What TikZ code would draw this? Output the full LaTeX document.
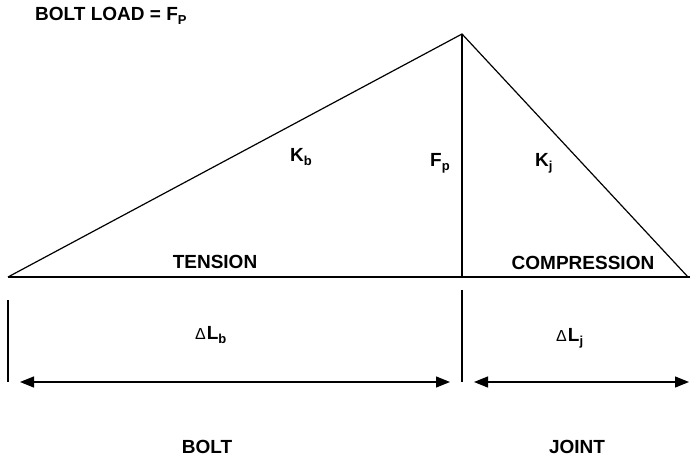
\documentclass[tikz,border=0pt]{standalone}
\usepackage{fontspec}
\setmainfont{Liberation Sans}
\usetikzlibrary{arrows.meta,positioning}

\newcommand{\lowidx}[1]{\raisebox{-4pt}{\fontsize{13}{13}\selectfont #1}}
\newcommand{\dlt}{{\fontsize{16}{16}\selectfont\mdseries Δ}\kern1pt}

\begin{document}
\begin{tikzpicture}[
  x=1pt, y=-1pt,
  lbl/.style={
    font=\bfseries\fontsize{19}{19}\selectfont,
    inner sep=0pt,
    anchor=base
  },
  lblw/.style={lbl, anchor=base west},
  line/.style={line width=1.2pt},
  dim/.style={
    {Triangle[length=14pt,width=11pt]}-{Triangle[length=14pt,width=11pt]},
    line width=1.2pt
  }
]
\useasboundingbox (0,0) rectangle (690,457);

% load triangle
\coordinate (base-l) at (8,277);
\coordinate (base-r) at (688,277);
\coordinate (base-end) at (690,277);
\coordinate (peak) at (462,34);
\coordinate (foot) at (462,277);

\draw[line] (base-l) -- (peak) -- (base-r);
\draw[line] (base-l) -- (base-end);
\draw[line] (peak) -- (foot);

% extension dimensions
\coordinate (tick-top) at (8,300);
\coordinate (tick-bot) at (8,382);
\coordinate (mid-top) at (462,290);
\coordinate (mid-bot) at (462,382);
\coordinate (bolt-l) at (20,382);
\coordinate (bolt-r) at (450,382);
\coordinate (joint-l) at (474,382);
\coordinate (joint-r) at (689,382);

\draw[line] (tick-top) -- (tick-bot);
\draw[line] (mid-top) -- (mid-bot);
\draw[dim] (bolt-l) -- (bolt-r);
\draw[dim] (joint-l) -- (joint-r);

% labels
\node[lblw] (title) at (35,21) {BOLT LOAD = F\lowidx{P}};
\node[lblw] (kb) at (290,162) {K\lowidx{b}};
\node[lblw] (fp) at (430,167) {F\lowidx{p}};
\node[lblw] (kj) at (535,167) {K\lowidx{j}};
\node[lbl] (tension) at (215,268) {TENSION};
\node[lbl] (compr) at (583,269) {COMPRESSION};
\node[lblw] (dlb) at (195,339) {\dlt L\lowidx{b}};
\node[lblw] (dlj) at (556,341) {\dlt L\lowidx{j}};
\node[lbl] (bolt) at (207,453) {BOLT};
\node[lbl] (joint) at (577,453) {JOINT};
\end{tikzpicture}
\end{document}
